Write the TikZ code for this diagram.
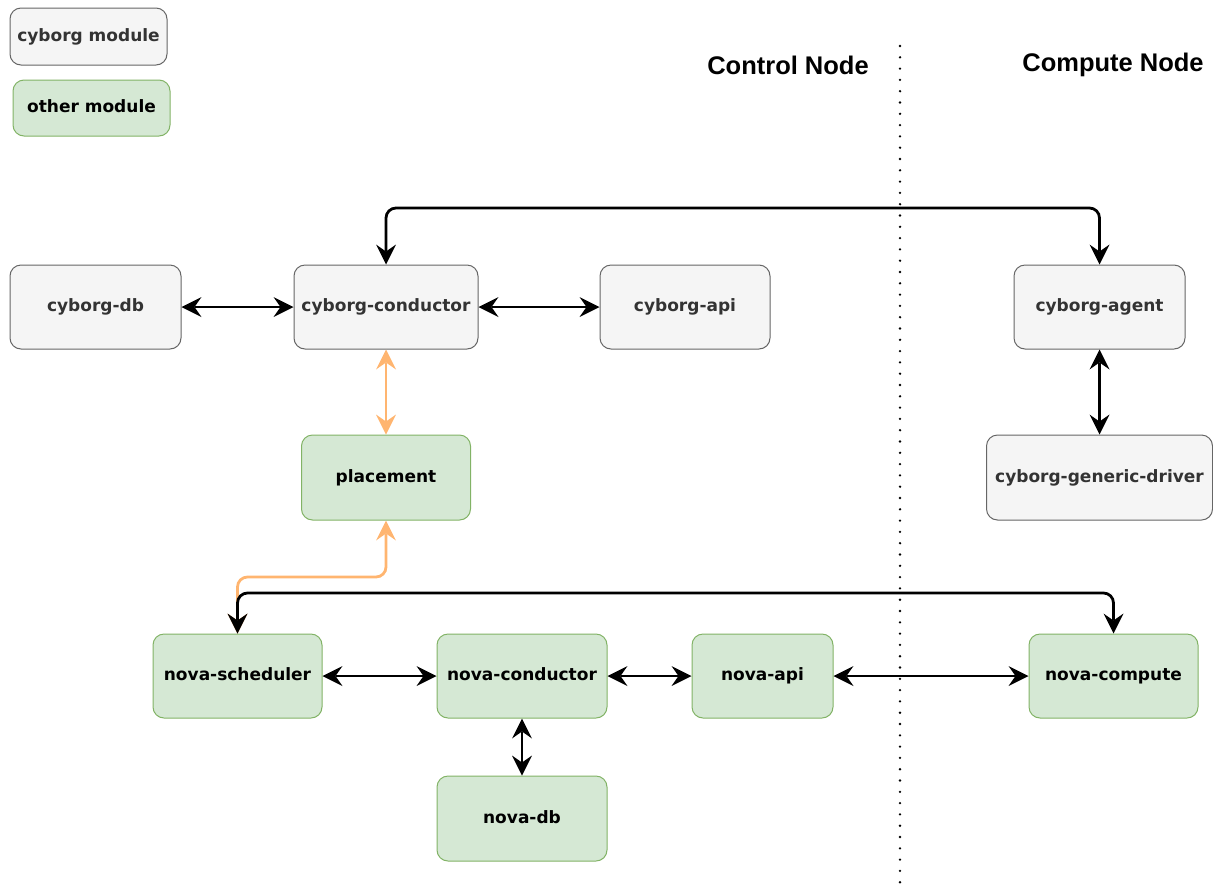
\documentclass[tikz,border=0pt]{standalone}
\usepackage{fontspec}
\setmainfont{DejaVu Sans}
\newfontfamily\titlefont{Liberation Sans}
\usetikzlibrary{arrows.meta}
\definecolor{cyfill}{HTML}{F5F5F5}
\definecolor{cydraw}{HTML}{666666}
\definecolor{cytext}{HTML}{333333}
\definecolor{grfill}{HTML}{D5E8D4}
\definecolor{grdraw}{HTML}{82B366}
\definecolor{orarrow}{HTML}{FFB570}
\tikzset{
  boxbase/.style={line width=1pt, rounded corners=11pt, inner sep=0pt,
    font=\fontsize{17}{20}\selectfont\bfseries, text height=12.5pt, text depth=3.5pt},
  cybox/.style={boxbase, draw=cydraw, fill=cyfill, text=cytext},
  grbox/.style={boxbase, draw=grdraw, fill=grfill, text=black},
  conn/.style={draw=black, line width=2.8pt, rounded corners=10pt,
    arrows={Stealth[length=20pt,width=20pt,inset=7pt,line width=0pt]-Stealth[length=20pt,width=20pt,inset=7pt,line width=0pt]}},
  oconn/.style={conn, draw=orarrow},
  title/.style={font=\titlefont\fontsize{25.5}{30}\selectfont\bfseries, inner sep=0pt},
}
\begin{document}
\begin{tikzpicture}[x=1pt,y=-1pt]
\useasboundingbox (0,0) rectangle (1213,887);
% legend
\node[cybox, minimum width=157pt, minimum height=57pt] (lcy) at (88.5,36.5) {cyborg module};
\node[grbox, minimum width=157pt, minimum height=56pt] (lgr) at (91.5,108) {other module};
% titles
\node[title] (ctrl) at (788,65) {Control Node};
\node[title] (comp) at (1113,65) {Compute Node};
% divider
\coordinate (dtop) at (900,46);
\coordinate (dbot) at (900,887);
\draw[line width=2.6pt, line cap=round, dash pattern=on 0pt off 11.3pt] (dtop) -- (dbot);
% cyborg nodes
\node[cybox, minimum width=171pt, minimum height=84pt] (cdb) at (95.5,307) {cyborg-db};
\node[cybox, minimum width=184pt, minimum height=84pt] (ccond) at (386,307) {cyborg-conductor};
\node[cybox, minimum width=170pt, minimum height=84pt] (capi) at (685,307) {cyborg-api};
\node[cybox, minimum width=171pt, minimum height=84pt] (cagent) at (1099.5,307) {cyborg-agent};
\node[cybox, minimum width=226pt, minimum height=85pt] (cdrv) at (1099.5,477.5) {cyborg-generic-driver};
% other nodes
\node[grbox, minimum width=169pt, minimum height=85pt] (place) at (386,477.5) {placement};
\node[grbox, minimum width=169pt, minimum height=84pt] (nsch) at (237.5,676) {nova-scheduler};
\node[grbox, minimum width=170pt, minimum height=84pt] (ncond) at (522,676) {nova-conductor};
\node[grbox, minimum width=141pt, minimum height=84pt] (napi) at (762.5,676) {nova-api};
\node[grbox, minimum width=169pt, minimum height=84pt] (ncomp) at (1113.5,676) {nova-compute};
\node[grbox, minimum width=170pt, minimum height=85pt] (ndb) at (522,818.5) {nova-db};
% orange connectors
\draw[oconn] (ccond.south) -- (place.north);
\draw[oconn] (place.south) -- (place.south |- 0,577) -- (nsch.north |- 0,577) -- (nsch.north);
% black connectors
\draw[conn] (cdb) -- (ccond);
\draw[conn] (ccond) -- (capi);
\draw[conn] (ccond.north) -- (ccond.north |- 0,208) -- (cagent.north |- 0,208) -- (cagent.north);
\draw[conn] (cagent) -- (cdrv);
\draw[conn] (nsch.north) -- (nsch.north |- 0,593) -- (ncomp.north |- 0,593) -- (ncomp.north);
\draw[conn] (nsch) -- (ncond);
\draw[conn] (ncond) -- (napi);
\draw[conn] (napi) -- (ncomp);
\draw[conn] (ncond) -- (ndb);
\end{tikzpicture}
\end{document}
